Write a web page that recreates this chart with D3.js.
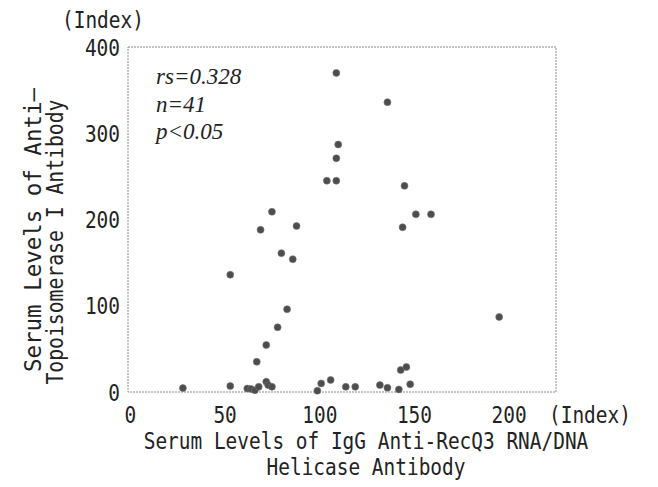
<!DOCTYPE html>
<html><head><meta charset="utf-8">
<script src="https://cdn.jsdelivr.net/npm/d3@7"></script>
<style>
body{margin:0;background:#fff;}
text{font-family:"DejaVu Sans Mono",monospace;fill:#222;}
</style></head>
<body><svg id="c" width="658" height="487"></svg>
<script>
const xValues = [28,53,53,62,64,66,68,67,69,72,72,73,75,75,78,80,83,86,88,99,101,104,106,109,109,109,110,114,119,132,136,136,142,143,144,145,146,148,151,159,195];
const yValues = [4.5,136,7,4,3.5,2,6,35,188,54.5,12,8,6,209,75,161,96,154,192.5,1.5,10,245,14,245,370,271,287,6,6,8,5,336,3,25.5,191,239,29,9,206,206,87];
const xTicks = [0,50,100,150,200];
const yTicks = [0,100,200,300,400];
const statLines = ["rs=0.328","n=41","p<0.05"];
const xTitle = ["Serum Levels of IgG Anti-RecQ3 RNA/DNA","Helicase Antibody"];
const yTitle = ["Serum Levels of Anti\u2013","Topoisomerase I Antibody"];
const unitLabel = "(Index)";

const FS = 22.5, CW = 11.7;
function cond(sel){
  sel.attr("font-size",FS).attr("lengthAdjust","spacingAndGlyphs")
     .attr("textLength",function(){ return this.textContent.length*CW; });
}

const svg = d3.select("#c");
const L=128,R=556,T=47,B=392;
const x = d3.scaleLinear().domain([-1,225]).range([L,R]);
const y = d3.scaleLinear().domain([0,400]).range([B,T]);

// frame
svg.append("rect").attr("x",L).attr("y",T).attr("width",R-L).attr("height",B-T)
  .attr("fill","none").attr("stroke","#8a8a8a").attr("stroke-width",1).attr("stroke-dasharray","2,1");

// axes (labels only)
const xa = svg.append("g").attr("transform",`translate(0,${B+31})`)
  .call(d3.axisBottom(x).tickValues(xTicks).tickSize(0).tickPadding(0));
xa.select(".domain").remove();
xa.selectAll("text").attr("fill","#222").attr("dy",0).style("font-family","DejaVu Sans Mono").call(cond);
const ya = svg.append("g").attr("transform",`translate(120,0)`)
  .call(d3.axisLeft(y).tickValues(yTicks).tickSize(0).tickPadding(0));
ya.select(".domain").remove();
ya.selectAll("text").attr("fill","#222").attr("dy","0.36em").style("font-family","DejaVu Sans Mono").call(cond);

// unit labels
svg.append("text").attr("x",62).attr("y",28).text(unitLabel).call(cond);
svg.append("text").attr("x",549).attr("y",B+31).text(unitLabel).call(cond);

// x title
svg.append("text").attr("x",366).attr("y",449).attr("text-anchor","middle").text(xTitle[0]).call(cond);
svg.append("text").attr("x",366).attr("y",475).attr("text-anchor","middle").text(xTitle[1]).call(cond);

// y title
svg.append("text").attr("transform","translate(41,230) rotate(-90)").attr("text-anchor","middle").text(yTitle[0])
  .attr("font-size",FS).attr("lengthAdjust","spacingAndGlyphs").attr("textLength",284);
svg.append("text").attr("transform","translate(63,242) rotate(-90)").attr("text-anchor","middle").text(yTitle[1])
  .attr("font-size",FS).attr("lengthAdjust","spacingAndGlyphs").attr("textLength",285);

// stats
svg.selectAll(".st").data(statLines).enter().append("text").attr("class","st")
  .attr("x",156).attr("y",(d,i)=>84+i*27.5)
  .style("font-family","'Liberation Serif','Times New Roman',serif").style("font-style","italic")
  .attr("font-size",23).text(d=>d);

// points
const pts = xValues.map((v,i)=>({x:v,y:yValues[i]}));
svg.selectAll("circle").data(pts).enter().append("circle")
  .attr("cx",d=>x(d.x)).attr("cy",d=>y(d.y)).attr("r",3.5)
  .attr("fill","#4d4d4d").attr("stroke","#777").attr("stroke-width",0.6);
</script></body></html>
